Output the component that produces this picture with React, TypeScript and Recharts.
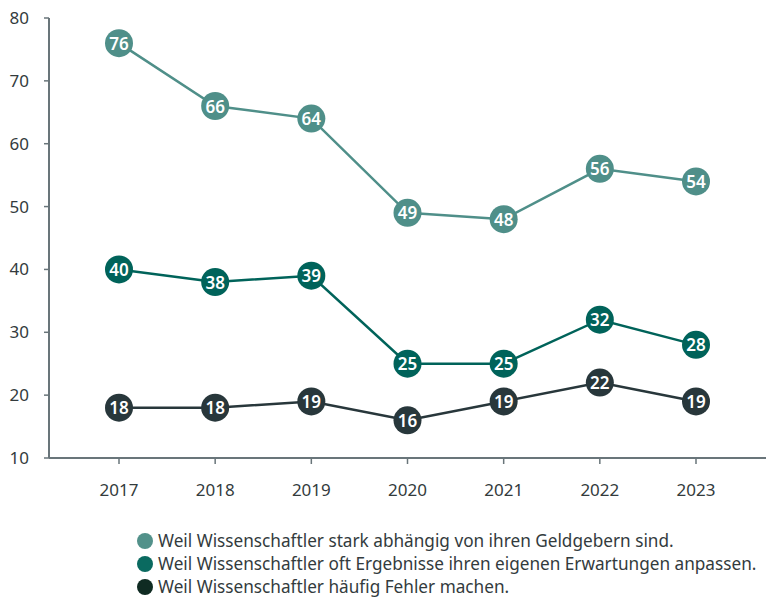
import React from 'react';
import { LineChart, Line, XAxis, YAxis, Legend } from 'recharts';

const years = ['2017', '2018', '2019', '2020', '2021', '2022', '2023'];
const geldgeber = [76, 66, 64, 49, 48, 56, 54];
const erwartungen = [40, 38, 39, 25, 25, 32, 28];
const fehler = [18, 18, 19, 16, 19, 22, 19];
const yTicks = [10, 20, 30, 40, 50, 60, 70, 80];

const seriesNames = [
  'Weil Wissenschaftler stark abhängig von ihren Geldgebern sind.',
  'Weil Wissenschaftler oft Ergebnisse ihren eigenen Erwartungen anpassen.',
  'Weil Wissenschaftler häufig Fehler machen.',
];
const lineColors = ['#4f8f89', '#00635a', '#28373b'];
const legendColors = ['#52918a', '#0a6a60', '#0f2b22'];

const data = years.map((y, i) => ({
  year: y,
  a: geldgeber[i],
  b: erwartungen[i],
  c: fehler[i],
}));

const FONT = '"Noto Sans", sans-serif';
const TEXT = '#333b3d';
const AXIS = '#69757a';

const makeDot = (color: string) => (props: any) => {
  const { cx, cy, value, index } = props;
  if (cx == null || cy == null) return <g key={index} />;
  return (
    <g key={index}>
      <circle cx={cx} cy={cy} r={14} fill={color} />
      <text
        x={cx}
        y={cy}
        textAnchor="middle"
        dominantBaseline="central"
        fill="#ffffff"
        fontSize={17}
        fontWeight={600}
        fontFamily={FONT}
      >
        {value}
      </text>
    </g>
  );
};

const LegendContent = () => (
  <div style={{ fontFamily: FONT, fontSize: 17.2, color: TEXT }}>
    {seriesNames.map((n, i) => (
      <div key={n} style={{ display: 'flex', alignItems: 'center', height: 23, whiteSpace: 'nowrap' }}>
        <span
          style={{
            display: 'inline-block',
            width: 16,
            height: 16,
            borderRadius: '50%',
            background: legendColors[i],
            marginRight: 5,
            flexShrink: 0,
          }}
        />
        <span>{n}</span>
      </div>
    ))}
  </div>
);

export default function App() {
  return (
    <div style={{ position: 'absolute', left: 0, top: 0, width: 766, height: 598, background: '#fff', overflow: 'hidden' }}>
      <LineChart width={766} height={598} data={data} margin={{ top: 18, right: 0, left: 0, bottom: 0 }}>
        <XAxis
          dataKey="year"
          padding={{ left: 70, right: 70 }}
          tickSize={6}
          tickMargin={20}
          height={71}
          axisLine={{ stroke: AXIS, strokeWidth: 2 }}
          tickLine={{ stroke: AXIS, strokeWidth: 1.5 }}
          tick={{ fill: TEXT, fontSize: 17, fontFamily: FONT }}
        />
        <YAxis
          domain={[10, 80]}
          ticks={yTicks}
          width={49}
          tickSize={5}
          tickMargin={15}
          axisLine={{ stroke: AXIS, strokeWidth: 2 }}
          tickLine={{ stroke: AXIS, strokeWidth: 1.5 }}
          tick={{ fill: TEXT, fontSize: 17, fontFamily: FONT }}
        />
        <Legend
          verticalAlign="bottom"
          align="left"
          content={<LegendContent />}
          wrapperStyle={{ left: 137, width: 629 }}
        />
        <Line dataKey="a" name={seriesNames[0]} stroke={lineColors[0]} strokeWidth={2.5} dot={makeDot(lineColors[0])} activeDot={false} isAnimationActive={false} />
        <Line dataKey="b" name={seriesNames[1]} stroke={lineColors[1]} strokeWidth={2.5} dot={makeDot(lineColors[1])} activeDot={false} isAnimationActive={false} />
        <Line dataKey="c" name={seriesNames[2]} stroke={lineColors[2]} strokeWidth={2.5} dot={makeDot(lineColors[2])} activeDot={false} isAnimationActive={false} />
      </LineChart>
    </div>
  );
}
